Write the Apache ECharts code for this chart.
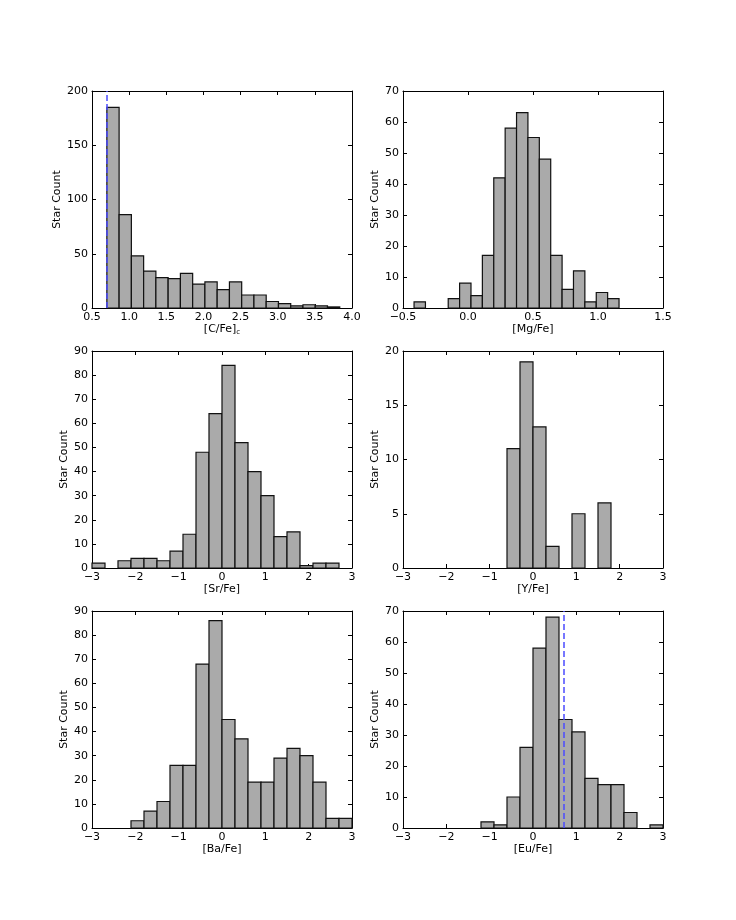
<!DOCTYPE html>
<html>
<head>
<meta charset="utf-8">
<script src="https://cdn.jsdelivr.net/npm/echarts@6/dist/echarts.min.js"></script>
<style>
  html, body { margin: 0; padding: 0; background: #fff; }
  #chart { width: 736px; height: 920px; }
</style>
</head>
<body>
<div id="chart"></div>
<script>
// histogram counts
const cfeCounts = [185, 86, 48, 34, 28, 27, 32, 22, 24, 17, 24, 12, 12, 6, 4, 2, 3, 2, 1];
const mgfeCounts = [2, 0, 0, 3, 8, 4, 17, 42, 58, 63, 55, 48, 17, 6, 12, 2, 5, 3];
const srfeCounts = [2, 0, 3, 4, 4, 3, 7, 14, 48, 64, 84, 52, 40, 30, 13, 15, 1, 2, 2];
const yfeCounts = [11, 19, 13, 2, 0, 5, 0, 6];
const bafeCounts = [3, 7, 11, 26, 26, 68, 86, 45, 37, 19, 19, 29, 33, 30, 19, 4, 4];
const eufeCounts = [2, 1, 10, 26, 58, 68, 35, 31, 16, 14, 14, 5, 0, 1];

// bin start / width for each histogram
const cfeBins = [0.7, 0.165];
const mgfeBins = [-0.415, 0.0876];
const srfeBins = [-3.0, 0.3];
const yfeBins = [-0.6, 0.3];
const bafeBins = [-2.1, 0.3];
const eufeBins = [-1.2, 0.3];

const xLabels = ["[C/Fe]{sub|c}", "[Mg/Fe]", "[Sr/Fe]", "[Y/Fe]", "[Ba/Fe]", "[Eu/Fe]"];
const yLabel = "Star Count";
const cutLines = [0.7, null, null, null, null, 0.7];

const panels = [
  { counts: cfeCounts, bins: cfeBins, x: [0.5, 4.0, 0.5], y: [0, 200, 50], dec: 1, gap: 26 },
  { counts: mgfeCounts, bins: mgfeBins, x: [-0.5, 1.5, 0.5], y: [0, 70, 10], dec: 1, gap: 20 },
  { counts: srfeCounts, bins: srfeBins, x: [-3, 3, 1], y: [0, 90, 10], dec: 0, gap: 21 },
  { counts: yfeCounts, bins: yfeBins, x: [-3, 3, 1], y: [0, 20, 5], dec: 0, gap: 20 },
  { counts: bafeCounts, bins: bafeBins, x: [-3, 3, 1], y: [0, 90, 10], dec: 0, gap: 21 },
  { counts: eufeCounts, bins: eufeBins, x: [-3, 3, 1], y: [0, 70, 10], dec: 0, gap: 20 },
];

const font = "DejaVu Sans";
const lefts = [92, 403];
const tops = [91, 351, 611];

function fmt(dec) {
  return function (v) {
    let s = Math.abs(v).toFixed(dec);
    return v < 0 ? "\u2212" + s : s;
  };
}

let grid = [], xAxis = [], yAxis = [], series = [];

panels.forEach((p, i) => {
  grid.push({ left: lefts[i % 2], top: tops[Math.floor(i / 2)], width: 260, height: 217 });
  let tick = { show: true, inside: true, length: 4, lineStyle: { color: "#000" } };
  let line = { show: true, onZero: false, lineStyle: { color: "#000", width: 1 } };
  xAxis.push({
    type: "value", gridIndex: i, position: "bottom",
    min: p.x[0], max: p.x[1], interval: p.x[2],
    axisLine: line, axisTick: tick, splitLine: { show: false },
    axisLabel: { color: "#000", fontFamily: font, fontSize: 11, margin: 4, formatter: fmt(p.dec) },
    name: xLabels[i], nameLocation: "middle", nameGap: 15,
    nameTextStyle: {
      color: "#000", fontFamily: font, fontSize: 11, verticalAlign: "top",
      rich: { sub: { fontSize: 7, verticalAlign: "bottom", padding: [6, 0, 0, 0], fontFamily: font, color: "#000" } },
    },
  });
  xAxis.push({
    type: "value", gridIndex: i, position: "top",
    min: p.x[0], max: p.x[1], interval: p.x[2],
    axisLine: line, axisTick: tick, splitLine: { show: false }, axisLabel: { show: false },
  });
  yAxis.push({
    type: "value", gridIndex: i, position: "left",
    min: p.y[0], max: p.y[1], interval: p.y[2],
    axisLine: line, axisTick: tick, splitLine: { show: false },
    axisLabel: { color: "#000", fontFamily: font, fontSize: 11, margin: 4 },
    name: yLabel, nameLocation: "middle", nameGap: p.gap, nameRotate: 90,
    nameTextStyle: { color: "#000", fontFamily: font, fontSize: 11 },
  });
  yAxis.push({
    type: "value", gridIndex: i, position: "right",
    min: p.y[0], max: p.y[1], interval: p.y[2],
    axisLine: line, axisTick: tick, splitLine: { show: false }, axisLabel: { show: false },
  });

  let data = p.counts.map((c, k) => [p.bins[0] + k * p.bins[1], p.bins[0] + (k + 1) * p.bins[1], c]);
  let s = {
    type: "custom",
    xAxisIndex: 2 * i,
    yAxisIndex: 2 * i,
    data: data,
    silent: true,
    renderItem: function (params, api) {
      let c = api.value(2);
      if (!c) return null;
      let p0 = api.coord([api.value(0), 0]);
      let p1 = api.coord([api.value(1), c]);
      return {
        type: "rect",
        shape: { x: p0[0], y: p1[1], width: p1[0] - p0[0], height: p0[1] - p1[1] },
        style: { fill: "#aaaaaa", stroke: "#111", lineWidth: 1.2 },
      };
    },
  };
  if (cutLines[i] !== null) {
    s.markLine = {
      silent: true,
      symbol: "none",
      label: { show: false },
      lineStyle: { color: "#4b4bff", type: [6, 3], width: 1.5 },
      data: [{ xAxis: cutLines[i] }],
    };
  }
  series.push(s);
});

let chart = echarts.init(document.getElementById("chart"));
chart.setOption({
  animation: false,
  backgroundColor: "#fff",
  grid: grid,
  xAxis: xAxis,
  yAxis: yAxis,
  series: series,
});
</script>
</body>
</html>
